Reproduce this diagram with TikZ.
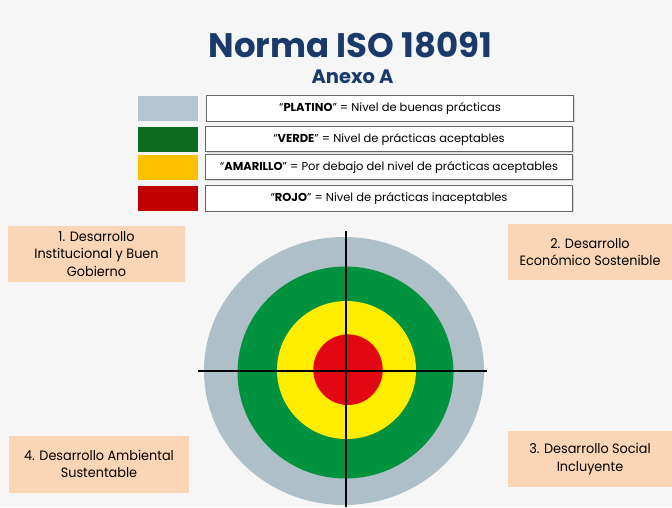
\documentclass[tikz,border=0pt]{standalone}
\usepackage{fontspec}
\usetikzlibrary{shadows}
\setmainfont{Poppins}
\newfontfamily\legfont{Poppins}
\newfontfamily\boxfont[FakeStretch=0.95]{Poppins}
\definecolor{bg}{HTML}{F6F6F6}
\definecolor{navy}{HTML}{1A3A6A}
\definecolor{platino}{HTML}{B4C6CF}
\definecolor{verde}{HTML}{0A6A1E}
\definecolor{amarillo}{HTML}{FFC000}
\definecolor{rojo}{HTML}{C00000}
\definecolor{tgray}{HTML}{AEBFC7}
\definecolor{tgreen}{HTML}{00923F}
\definecolor{tyellow}{HTML}{FFED00}
\definecolor{tred}{HTML}{E30613}
\definecolor{peach}{HTML}{FAD6B6}
\tikzset{
  swatch/.style={draw=none, minimum width=60pt, minimum height=25pt, inner sep=0pt},
  legbox/.style={draw=black!60, line width=0.6pt, fill=white, minimum width=367pt, minimum height=25.5pt, inner sep=0pt,
    drop shadow={shadow xshift=1pt, shadow yshift=-1pt, opacity=0.25},
    font=\legfont\fontsize{11.5}{13}\selectfont},
  areabox/.style={fill=peach, draw=none, inner sep=0pt, align=center, font=\boxfont\fontsize{13.5}{17.5}\selectfont},
  axis/.style={line width=1.8pt, black}
}
\begin{document}
\begin{tikzpicture}[x=1pt,y=-1pt]
\fill[bg] (0,0) rectangle (672,507);
\useasboundingbox (0,0) rectangle (672,507);
% title
\node[font=\bfseries\fontsize{34}{36}\selectfont, text=navy] (title) at (350.5,45) {Norma ISO 18091};
\node[font=\bfseries\fontsize{19.5}{22}\selectfont, text=navy] (anexo) at (352.5,77) {Anexo A};
% legend
\node[swatch, fill=platino] (s1) at (168,108.5) {};
\node[swatch, fill=verde] (s2) at (168,139) {};
\node[swatch, fill=amarillo] (s3) at (168,167) {};
\node[swatch, fill=rojo] (s4) at (168,198.5) {};
\node[legbox] (b1) at (390,108.5) {“\textbf{PLATINO}” = Nivel de buenas prácticas};
\node[legbox] (b2) at (389,139) {“\textbf{VERDE}” = Nivel de prácticas aceptables};
\node[legbox] (b3) at (389,167) {“\textbf{AMARILLO}” = Por debajo del nivel de prácticas aceptables};
\node[legbox] (b4) at (389,198.5) {“\textbf{ROJO}” = Nivel de prácticas inaceptables};
% areas
\node[areabox, minimum width=177pt, minimum height=56pt] (a1) at (96.5,254) {1. Desarrollo\\Institucional y Buen\\Gobierno};
\node[areabox, minimum width=164pt, minimum height=56pt] (a2) at (590,252) {2. Desarrollo\\Económico Sostenible};
\node[areabox, minimum width=164pt, minimum height=56pt] (a3) at (590,459) {3. Desarrollo Social\\Incluyente};
\node[areabox, minimum width=180pt, minimum height=57pt] (a4) at (99,464) {4. Desarrollo Ambiental\\Sustentable};
% target
\coordinate (c) at (346,371);
\fill[tgray] (344,371) ellipse [x radius=140pt, y radius=134pt];
\fill[tgreen] (345.5,372.5) ellipse [x radius=108pt, y radius=106pt];
\fill[tyellow] (346.5,370) ellipse [x radius=69.5pt, y radius=69pt];
\fill[tred] (348,369.7) ellipse [x radius=34.7pt, y radius=35.3pt];
\coordinate (vt) at (346,231);
\coordinate (vb) at (346,507);
\coordinate (hl) at (198,371);
\coordinate (hr) at (487,371);
\draw[axis] (vt) -- (vb);
\draw[axis] (hl) -- (hr);
\end{tikzpicture}
\end{document}
